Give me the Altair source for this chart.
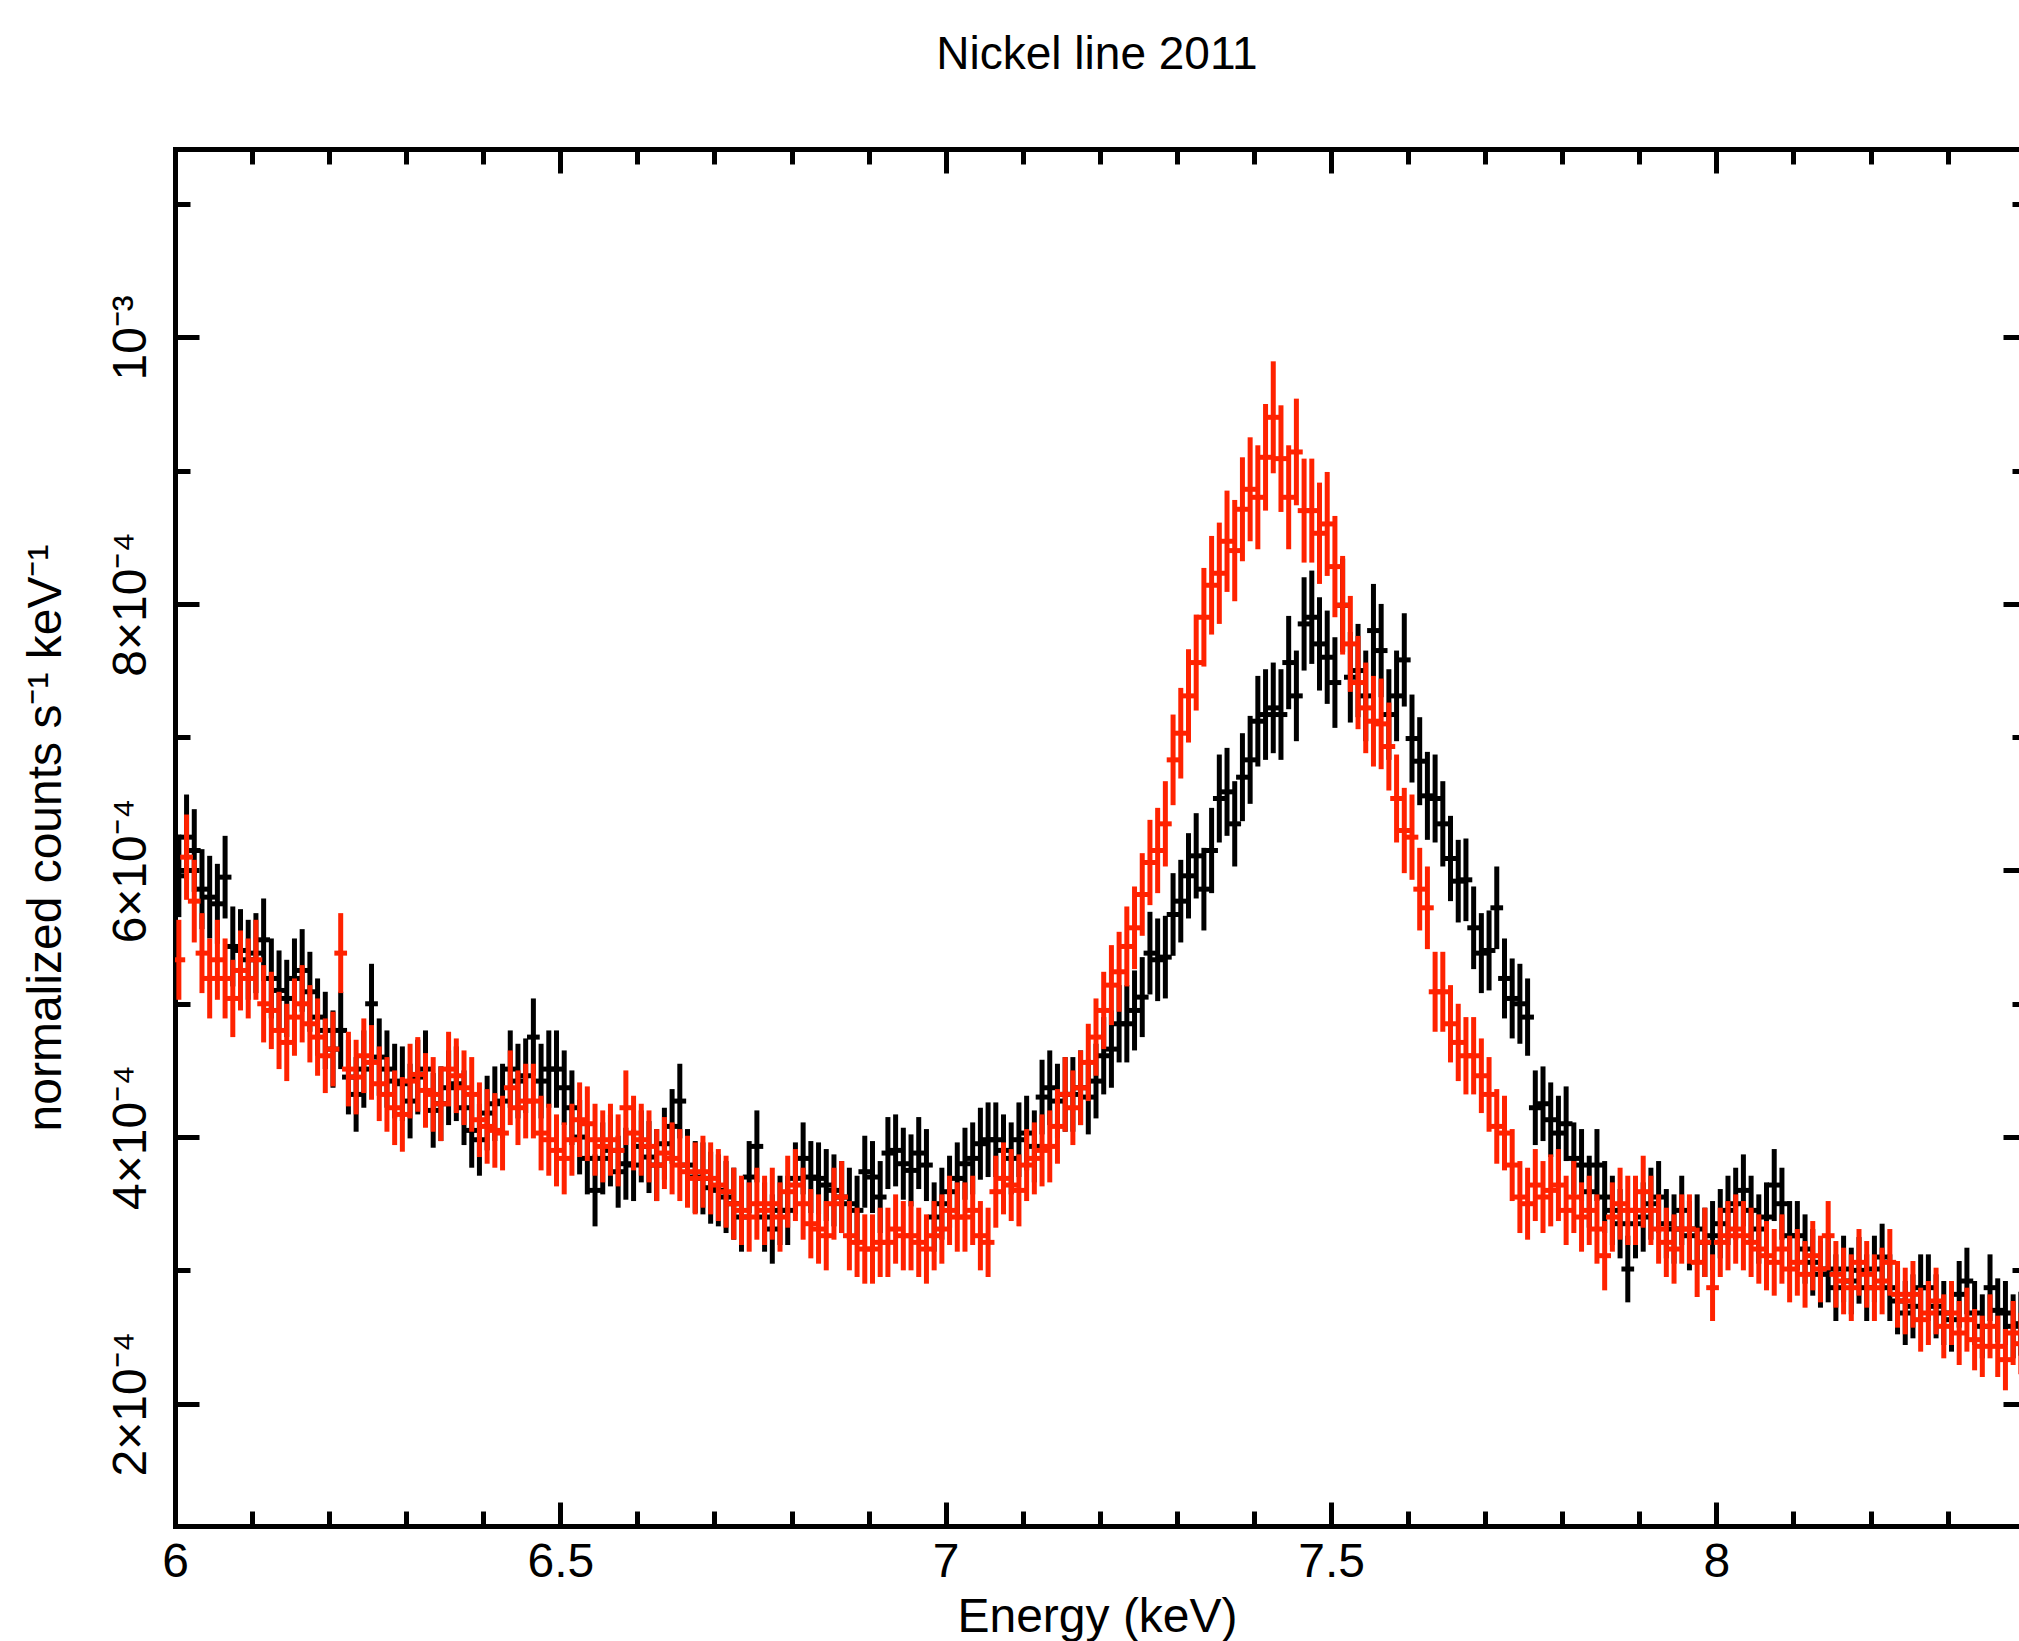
import altair as alt
import pandas as pd

# ---- data (normalized counts s^-1 keV^-1, in units of 1e-4), 0.01 keV bins from 6.0 keV
E_START = 6.0
BIN_W = 0.01

BLACK = [
    5.96, 6.25, 6.15, 5.86, 5.80, 5.75, 5.95, 5.43, 5.40, 5.33,
    5.38, 5.48, 5.19, 5.10, 5.04, 5.19, 5.25, 5.09, 4.90, 4.80,
    4.66, 4.80, 4.45, 4.32, 4.51, 5.00, 4.60, 4.51, 4.42, 4.40,
    4.27, 4.45, 4.51, 4.20, 4.25, 4.37, 4.40, 4.22, 4.05, 3.98,
    4.18, 4.25, 4.27, 4.51, 4.42, 4.46, 4.75, 4.42, 4.51, 4.51,
    4.37, 4.22, 4.00, 3.84, 3.60, 3.84, 3.90, 3.74, 3.80, 3.79,
    3.93, 3.85, 3.79, 3.95, 4.08, 4.27, 3.79, 3.70, 3.69, 3.62,
    3.60, 3.55, 3.50, 3.40, 3.70, 3.93, 3.40, 3.31, 3.45, 3.45,
    3.69, 3.84, 3.70, 3.69, 3.64, 3.60, 3.55, 3.50, 3.45, 3.74,
    3.70, 3.55, 3.88, 3.90, 3.80, 3.75, 3.88, 3.79, 3.40, 3.50,
    3.59, 3.69, 3.80, 3.84, 3.95, 3.98, 3.98, 3.90, 3.84, 3.98,
    4.03, 3.93, 4.30, 4.37, 4.27, 4.32, 4.32, 4.37, 4.30, 4.42,
    4.61, 4.66, 4.85, 4.85, 4.95, 5.05, 5.38, 5.33, 5.35, 5.67,
    5.77, 5.96, 6.11, 5.86, 6.15, 6.54, 6.59, 6.35, 6.70, 6.83,
    7.12, 7.17, 7.22, 7.17, 7.56, 7.31, 7.85, 7.90, 7.70, 7.60,
    7.41, 7.99, 7.45, 7.50, 7.31, 7.80, 7.65, 7.17, 7.31, 7.58,
    6.99, 6.82, 6.56, 6.54, 6.35, 6.09, 5.92, 5.93, 5.57, 5.38,
    5.40, 5.72, 5.19, 5.04, 5.00, 4.90, 4.22, 4.25, 4.13, 4.03,
    4.10, 3.84, 3.79, 3.59, 3.79, 3.55, 3.45, 3.35, 3.01, 3.35,
    3.40, 3.50, 3.55, 3.35, 3.31, 3.45, 3.26, 3.31, 3.21, 3.26,
    3.35, 3.45, 3.50, 3.60, 3.45, 3.31, 3.40, 3.64, 3.50, 3.26,
    3.26, 3.16, 3.06, 2.97, 3.01, 2.87, 3.01, 2.92, 3.00, 2.87,
    3.01, 3.10, 2.87, 2.77, 2.68, 2.73, 2.87, 2.87, 2.73, 2.68,
    2.63, 2.82, 2.92, 2.68, 2.58, 2.87, 2.70, 2.68, 2.58, 2.60,
]
BLACK_ERR = [
    0.31, 0.32, 0.31, 0.30, 0.31, 0.30, 0.31, 0.30, 0.31, 0.30,
    0.30, 0.31, 0.30, 0.30, 0.29, 0.30, 0.31, 0.30, 0.29, 0.29,
    0.29, 0.29, 0.28, 0.28, 0.29, 0.30, 0.29, 0.29, 0.28, 0.28,
    0.28, 0.28, 0.29, 0.28, 0.28, 0.28, 0.28, 0.28, 0.28, 0.27,
    0.28, 0.28, 0.28, 0.29, 0.28, 0.28, 0.29, 0.28, 0.29, 0.29,
    0.28, 0.28, 0.28, 0.27, 0.27, 0.27, 0.27, 0.27, 0.27, 0.27,
    0.27, 0.27, 0.27, 0.27, 0.28, 0.28, 0.27, 0.27, 0.27, 0.27,
    0.27, 0.27, 0.27, 0.26, 0.27, 0.27, 0.26, 0.26, 0.26, 0.26,
    0.27, 0.27, 0.27, 0.27, 0.27, 0.27, 0.27, 0.27, 0.26, 0.27,
    0.27, 0.27, 0.27, 0.27, 0.27, 0.27, 0.27, 0.27, 0.26, 0.27,
    0.27, 0.27, 0.27, 0.27, 0.27, 0.28, 0.28, 0.27, 0.27, 0.28,
    0.28, 0.27, 0.28, 0.28, 0.28, 0.28, 0.28, 0.28, 0.28, 0.28,
    0.29, 0.29, 0.29, 0.29, 0.30, 0.30, 0.31, 0.31, 0.31, 0.31,
    0.31, 0.32, 0.32, 0.31, 0.32, 0.33, 0.33, 0.32, 0.33, 0.33,
    0.34, 0.34, 0.34, 0.34, 0.35, 0.34, 0.35, 0.35, 0.35, 0.35,
    0.34, 0.35, 0.34, 0.35, 0.34, 0.35, 0.35, 0.34, 0.34, 0.35,
    0.33, 0.33, 0.33, 0.33, 0.32, 0.32, 0.31, 0.31, 0.31, 0.30,
    0.30, 0.31, 0.30, 0.30, 0.30, 0.29, 0.28, 0.28, 0.28, 0.28,
    0.28, 0.27, 0.27, 0.27, 0.27, 0.27, 0.26, 0.26, 0.25, 0.26,
    0.26, 0.27, 0.27, 0.26, 0.26, 0.26, 0.26, 0.26, 0.26, 0.26,
    0.26, 0.26, 0.27, 0.27, 0.26, 0.26, 0.26, 0.27, 0.27, 0.26,
    0.26, 0.26, 0.25, 0.25, 0.25, 0.25, 0.25, 0.25, 0.25, 0.25,
    0.25, 0.25, 0.25, 0.25, 0.24, 0.24, 0.25, 0.25, 0.24, 0.24,
    0.24, 0.25, 0.25, 0.24, 0.24, 0.25, 0.24, 0.24, 0.24, 0.24,
]
RED = [
    5.33, 6.10, 5.77, 5.38, 5.19, 5.33, 5.19, 5.04, 5.25, 5.19,
    5.33, 5.00, 4.95, 4.80, 4.71, 4.90, 5.00, 4.85, 4.75, 4.61,
    4.66, 5.38, 4.51, 4.45, 4.61, 4.56, 4.40, 4.32, 4.22, 4.17,
    4.42, 4.47, 4.35, 4.32, 4.25, 4.51, 4.46, 4.37, 4.32, 4.13,
    4.08, 4.05, 4.03, 4.37, 4.22, 4.27, 4.27, 4.03, 3.98, 3.90,
    3.84, 3.98, 4.13, 4.10, 3.98, 3.93, 3.98, 3.90, 4.22, 4.03,
    3.98, 3.93, 3.79, 3.88, 3.84, 3.79, 3.74, 3.69, 3.74, 3.69,
    3.64, 3.59, 3.50, 3.45, 3.40, 3.50, 3.45, 3.50, 3.40, 3.59,
    3.64, 3.50, 3.35, 3.31, 3.26, 3.50, 3.55, 3.26, 3.21, 3.16,
    3.16, 3.21, 3.21, 3.31, 3.26, 3.26, 3.21, 3.16, 3.26, 3.31,
    3.45, 3.40, 3.40, 3.45, 3.26, 3.21, 3.59, 3.69, 3.64, 3.60,
    3.79, 3.84, 3.90, 3.93, 4.08, 4.32, 4.22, 4.37, 4.56, 4.75,
    4.95, 5.14, 5.24, 5.43, 5.57, 5.82, 6.06, 6.15, 6.35, 6.83,
    7.03, 7.31, 7.56, 7.90, 8.14, 8.23, 8.47, 8.40, 8.71, 8.86,
    8.80, 9.10, 9.40, 9.09, 8.80, 9.14, 8.70, 8.70, 8.53, 8.60,
    8.28, 7.99, 7.70, 7.41, 7.22, 7.12, 7.10, 6.93, 6.54, 6.30,
    6.25, 5.86, 5.72, 5.09, 5.09, 4.85, 4.71, 4.61, 4.61, 4.46,
    4.32, 4.08, 4.03, 3.79, 3.55, 3.50, 3.64, 3.55, 3.60, 3.64,
    3.45, 3.55, 3.40, 3.45, 3.31, 3.11, 3.40, 3.50, 3.45, 3.45,
    3.59, 3.45, 3.31, 3.21, 3.16, 3.31, 3.31, 3.06, 3.21, 2.87,
    3.21, 3.26, 3.31, 3.26, 3.21, 3.16, 3.11, 3.06, 3.16, 3.01,
    3.06, 2.97, 3.11, 3.01, 3.26, 2.97, 2.92, 2.87, 3.06, 2.97,
    2.87, 2.92, 3.06, 2.82, 2.77, 2.82, 2.63, 2.68, 2.77, 2.58,
    2.68, 2.53, 2.63, 2.48, 2.43, 2.58, 2.43, 2.33, 2.53, 2.45,
]
RED_ERR = [
    0.30, 0.32, 0.31, 0.30, 0.30, 0.30, 0.30, 0.29, 0.30, 0.30,
    0.30, 0.29, 0.29, 0.29, 0.29, 0.29, 0.29, 0.29, 0.29, 0.28,
    0.28, 0.30, 0.28, 0.28, 0.28, 0.28, 0.28, 0.28, 0.28, 0.28,
    0.28, 0.28, 0.28, 0.28, 0.28, 0.28, 0.28, 0.28, 0.28, 0.28,
    0.28, 0.28, 0.28, 0.28, 0.28, 0.28, 0.28, 0.28, 0.27, 0.27,
    0.27, 0.27, 0.28, 0.28, 0.27, 0.27, 0.27, 0.27, 0.28, 0.28,
    0.27, 0.27, 0.27, 0.27, 0.27, 0.27, 0.27, 0.27, 0.27, 0.27,
    0.27, 0.27, 0.27, 0.26, 0.26, 0.27, 0.26, 0.27, 0.26, 0.27,
    0.27, 0.27, 0.26, 0.26, 0.26, 0.27, 0.27, 0.26, 0.26, 0.26,
    0.26, 0.26, 0.26, 0.26, 0.26, 0.26, 0.26, 0.26, 0.26, 0.26,
    0.26, 0.26, 0.26, 0.26, 0.26, 0.26, 0.27, 0.27, 0.27, 0.27,
    0.27, 0.27, 0.27, 0.27, 0.28, 0.28, 0.28, 0.28, 0.29, 0.29,
    0.29, 0.30, 0.30, 0.30, 0.31, 0.31, 0.32, 0.32, 0.32, 0.34,
    0.34, 0.35, 0.36, 0.37, 0.37, 0.38, 0.38, 0.38, 0.39, 0.39,
    0.39, 0.40, 0.42, 0.40, 0.39, 0.40, 0.39, 0.39, 0.38, 0.39,
    0.38, 0.37, 0.36, 0.35, 0.34, 0.34, 0.34, 0.33, 0.33, 0.32,
    0.32, 0.31, 0.31, 0.30, 0.30, 0.29, 0.29, 0.29, 0.29, 0.28,
    0.28, 0.28, 0.28, 0.27, 0.27, 0.27, 0.27, 0.27, 0.27, 0.27,
    0.26, 0.27, 0.26, 0.26, 0.26, 0.26, 0.26, 0.27, 0.26, 0.26,
    0.27, 0.26, 0.26, 0.26, 0.26, 0.26, 0.26, 0.26, 0.26, 0.25,
    0.26, 0.26, 0.26, 0.26, 0.26, 0.26, 0.26, 0.25, 0.26, 0.25,
    0.25, 0.25, 0.26, 0.25, 0.26, 0.25, 0.25, 0.25, 0.25, 0.25,
    0.25, 0.25, 0.25, 0.25, 0.25, 0.25, 0.24, 0.24, 0.25, 0.24,
    0.24, 0.24, 0.24, 0.23, 0.23, 0.24, 0.23, 0.23, 0.24, 0.23,
]

X_DOMAIN = [6.0, 8.3926]
Y_DOMAIN = [1.082, 11.413]
X_MAJOR = [6, 6.5, 7, 7.5, 8]
X_MINOR = [6.1, 6.2, 6.3, 6.4, 6.6, 6.7, 6.8, 6.9, 7.1, 7.2, 7.3, 7.4,
           7.6, 7.7, 7.8, 7.9, 8.1, 8.2, 8.3]
Y_MAJOR = [2, 4, 6, 8, 10]
Y_MINOR = [3, 5, 7, 9, 11]

TITLE = "Nickel line 2011"
X_TITLE = "Energy (keV)"
Y_TITLE = "normalized counts s⁻¹ keV⁻¹"

# ---- build tables
def make_table(vals, errs):
    rows = []
    for i, (v, e) in enumerate(zip(vals, errs)):
        c = E_START + BIN_W * (i + 0.5)
        rows.append({"E": c, "E0": c - BIN_W / 2, "E1": c + BIN_W / 2,
                     "v": v, "lo": v - e, "hi": v + e})
    return pd.DataFrame(rows)

df_black = make_table(BLACK, BLACK_ERR)
df_red = make_table(RED, RED_ERR)

FONT = "Liberation Sans"
LW = 5
W, H = 1844, 1377
PAD = {"left": 175, "top": 149, "right": 0, "bottom": 115}

xs = alt.Scale(domain=X_DOMAIN, nice=False, zero=False)
ys = alt.Scale(domain=Y_DOMAIN, nice=False, zero=False)


def tick_axis(orient, values, size, offset=None):
    return alt.Axis(orient=orient, values=values, tickSize=size,
                    offset=-(size if offset is None else offset),
                    tickWidth=LW, tickColor="black", ticks=True,
                    labels=False, domain=False, grid=False, title=None)


x_label_axis = alt.Axis(
    orient="bottom", values=X_MAJOR, format="~g", ticks=False, domain=True,
    domainWidth=LW, domainColor="black", domainCap="square", grid=False,
    labelFont=FONT, labelFontSize=48, labelColor="black", labelPadding=12,
    labelFlush=False, labelOverlap=False,
    title=X_TITLE, titleFont=FONT, titleFontSize=48, titleFontWeight="normal",
    titleColor="black", titlePadding=7)

y_label_axis = alt.Axis(
    orient="left", values=Y_MAJOR, ticks=False, domain=True,
    domainWidth=LW, domainColor="black", domainCap="square", grid=False,
    labelExpr="datum.value == 10 ? '10⁻³' : datum.value + '×10⁻⁴'",
    labelAngle=270, labelAlign="center", labelBaseline="alphabetic",
    labelFont=FONT, labelFontSize=48, labelColor="black", labelPadding=30,
    labelOverlap=False, labelFlush=False,
    title=Y_TITLE, titleFont=FONT, titleFontSize=48, titleFontWeight="normal",
    titleColor="black", titleAngle=270, titleBaseline="alphabetic", titleX=-115)

x_top_domain = alt.Axis(orient="top", ticks=False, labels=False, domain=True,
                        domainWidth=LW, domainColor="black", domainCap="square",
                        grid=False, title=None)

BLACK_C = "#000000"
RED_C = "#ff2200"
EW = 5

base_b = alt.Chart(df_black)
base_r = alt.Chart(df_red)

l1 = base_b.mark_rule(color=BLACK_C, strokeWidth=EW, clip=True).encode(
    x=alt.X("E:Q", scale=xs, axis=x_label_axis),
    y=alt.Y("lo:Q", scale=ys, axis=y_label_axis),
    y2="hi:Q")
l2 = base_b.mark_rule(color=BLACK_C, strokeWidth=EW, strokeCap="square", clip=True).encode(
    x=alt.X("E0:Q", scale=xs, axis=tick_axis("bottom", X_MAJOR, 24)),
    x2="E1:Q",
    y=alt.Y("v:Q", scale=ys, axis=tick_axis("left", Y_MAJOR, 24)))
l3 = base_r.mark_rule(color=RED_C, strokeWidth=EW, clip=True).encode(
    x=alt.X("E:Q", scale=xs, axis=tick_axis("bottom", X_MINOR, 15)),
    y=alt.Y("lo:Q", scale=ys, axis=tick_axis("left", Y_MINOR, 15)),
    y2="hi:Q")
l4 = base_r.mark_rule(color=RED_C, strokeWidth=EW, strokeCap="square", clip=True).encode(
    x=alt.X("E0:Q", scale=xs, axis=tick_axis("top", X_MAJOR, 24)),
    x2="E1:Q",
    y=alt.Y("v:Q", scale=ys, axis=tick_axis("right", Y_MAJOR, 16)))
l5 = base_r.mark_point(opacity=0, size=1).encode(
    x=alt.X("E:Q", scale=xs, axis=tick_axis("top", X_MINOR, 15)),
    y=alt.Y("v:Q", scale=ys, axis=tick_axis("right", Y_MINOR, 7)))
l6 = base_r.mark_point(opacity=0, size=1).encode(
    x=alt.X("E:Q", scale=xs, axis=x_top_domain),
    y=alt.Y("v:Q", scale=ys, axis=None))

chart = alt.layer(l1, l2, l3, l4, l5, l6).resolve_axis(
    x="independent", y="independent"
).properties(
    width=W, height=H,
    title=alt.TitleParams(TITLE, font=FONT, fontSize=46, fontWeight="normal",
                          color="black", anchor="middle", offset=68),
    autosize=alt.AutoSizeParams(type="none"),
    padding=PAD,
    background="white",
).configure_view(stroke=None)

chart.save("out.html", embed_options={"renderer": "svg", "actions": False})
